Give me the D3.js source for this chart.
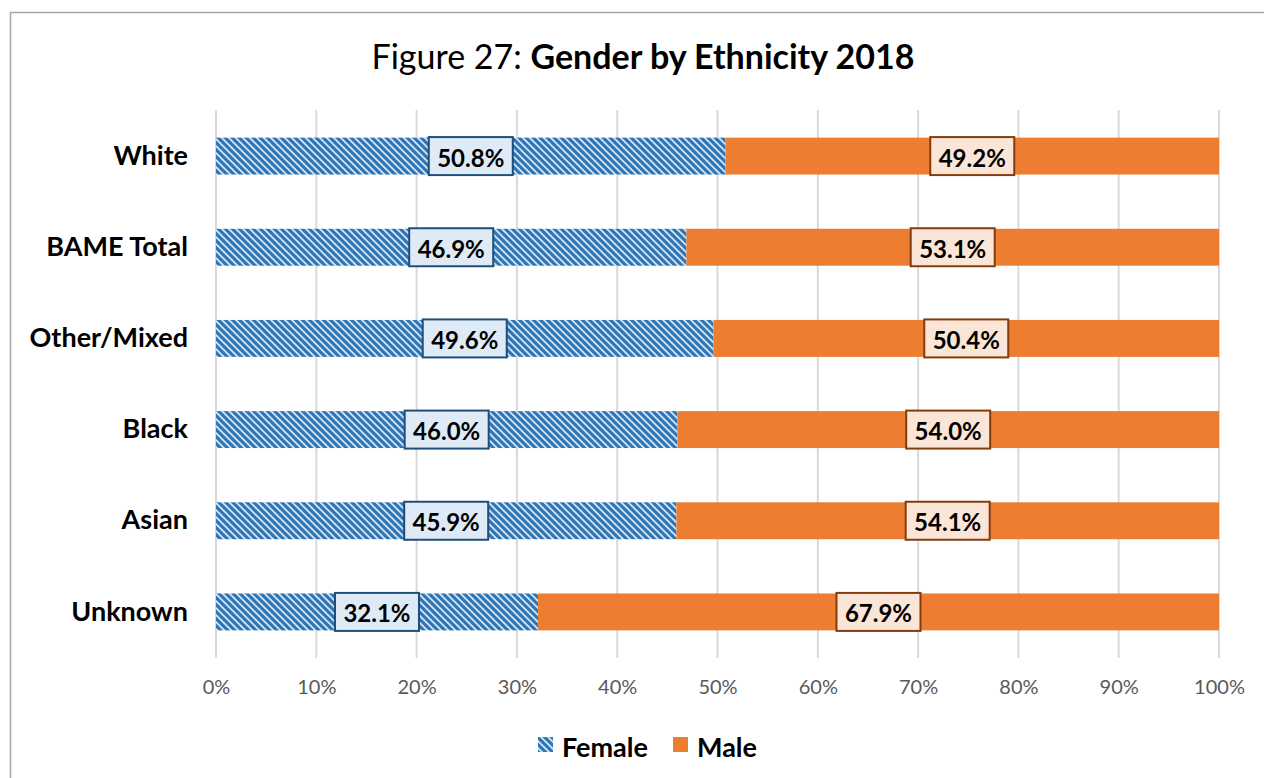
<!DOCTYPE html>
<html><head><meta charset="utf-8">
<script src="https://cdn.jsdelivr.net/npm/d3@7"></script>
<style>
html,body{margin:0;padding:0;background:#fff;}
svg{display:block;}
</style></head>
<body>
<script>
const categories = ["White","BAME Total","Other/Mixed","Black","Asian","Unknown"];
const female = [50.8, 46.9, 49.6, 46.0, 45.9, 32.1];
const male = [49.2, 53.1, 50.4, 54.0, 54.1, 67.9];
const ticks = [0,10,20,30,40,50,60,70,80,90,100];
const seriesNames = ["Female","Male"];

const W = 1264, H = 778;
const FONT = "Lato, 'Open Sans', sans-serif";
const svg = d3.select("body").append("svg").attr("width", W).attr("height", H);

const defs = svg.append("defs");
const pat = defs.append("pattern").attr("id","hatch").attr("patternUnits","userSpaceOnUse")
  .attr("width",7).attr("height",7);
pat.append("rect").attr("width",7).attr("height",7).attr("fill","#2e75b6");
pat.append("path").attr("d","M-1,-1 L8,8 M-1,6 L1,8 M6,-1 L8,1").attr("stroke","#d6e5f5").attr("stroke-width",1.8);

svg.append("rect").attr("x",10.5).attr("y",12.5).attr("width",W+20).attr("height",H+20)
  .attr("fill","#fff").attr("stroke","#a6a6a6").attr("stroke-width",1.5);

const x = d3.scaleLinear().domain([0,100]).range([216,1219]);
const y = d3.scaleBand().domain(categories).range([110.5,657.5]).paddingInner(0.595).paddingOuter(0.2975);

// title
const t = svg.append("text").attr("x",643).attr("y",69).attr("text-anchor","middle")
  .attr("font-family",FONT).attr("font-size",34).attr("fill","#000");
t.append("tspan").text("Figure 27: ");
t.append("tspan").attr("font-weight","bold").text("Gender by Ethnicity 2018");

// gridlines
svg.append("g").selectAll("line").data(ticks).join("line")
  .attr("x1",d=>x(d)).attr("x2",d=>x(d)).attr("y1",110).attr("y2",658)
  .attr("stroke","#d9d9d9").attr("stroke-width",2);

// x axis labels
const xAxis = d3.axisBottom(x).tickValues(ticks).tickFormat(d=>d+"%").tickSize(0).tickPadding(0);
const gx = svg.append("g").attr("transform","translate(0,680)").call(xAxis);
gx.select(".domain").remove();
gx.selectAll("text").attr("font-family",FONT).attr("font-size",20).attr("fill","#595959");

// y axis labels
const yAxis = d3.axisLeft(y).tickSize(0).tickPadding(28);
const gy = svg.append("g").attr("transform","translate(216,0)").call(yAxis);
gy.select(".domain").remove();
gy.selectAll("text").attr("font-family",FONT).attr("font-size",27).attr("font-weight","bold").attr("fill","#000");

const data = categories.map((c,i)=>({cat:c, f:female[i], m:male[i]}));

// bars
const g = svg.append("g");
g.selectAll(".f").data(data).join("rect").attr("class","f")
  .attr("x",x(0)).attr("y",d=>y(d.cat)).attr("width",d=>x(d.f)-x(0)).attr("height",y.bandwidth())
  .attr("fill","url(#hatch)");
g.selectAll(".m").data(data).join("rect").attr("class","m")
  .attr("x",d=>x(d.f)).attr("y",d=>y(d.cat)).attr("width",d=>x(100)-x(d.f)).attr("height",y.bandwidth())
  .attr("fill","#ed7d31");

// labels
function addLabel(cx, cy, txt, fill, stroke){
  const lg = svg.append("g");
  const rect = lg.append("rect");
  const tx = lg.append("text").attr("x",cx).attr("y",cy+1).attr("text-anchor","middle")
    .attr("dominant-baseline","central").attr("font-family",FONT).attr("font-size",24)
    .attr("font-weight","bold").attr("fill","#000").text(txt);
  const w = 84, h = 38;
  rect.attr("x",cx-w/2).attr("y",cy-h/2).attr("width",w).attr("height",h)
    .attr("fill",fill).attr("stroke",stroke).attr("stroke-width",2);
}
data.forEach(d=>{
  const cy = y(d.cat)+y.bandwidth()/2;
  addLabel((x(0)+x(d.f))/2, cy, d.f.toFixed(1)+"%", "#deebf7", "#1f4e79");
  addLabel((x(d.f)+x(100))/2, cy, d.m.toFixed(1)+"%", "#fbe5d6", "#843c0c");
});

// legend
const lg = svg.append("g");
const legendItems = [{name:seriesNames[0], fill:"url(#hatch)", x:538},{name:seriesNames[1], fill:"#ed7d31", x:673}];
legendItems.forEach(it=>{
  lg.append("rect").attr("x",it.x).attr("y",737).attr("width",15).attr("height",15).attr("fill",it.fill);
  lg.append("text").attr("x",it.x+24).attr("y",746).attr("dominant-baseline","central")
    .attr("font-family",FONT).attr("font-size",27).attr("font-weight","bold").attr("fill","#000").text(it.name);
});
</script>
</body></html>
